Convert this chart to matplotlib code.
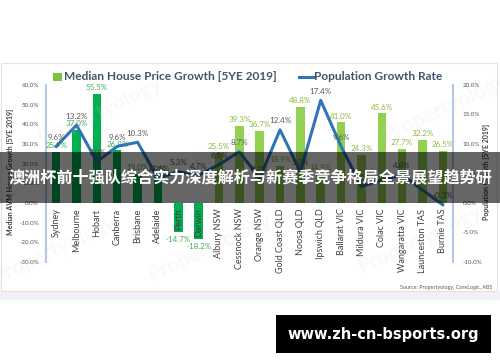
import matplotlib
matplotlib.use("Agg")
import matplotlib.pyplot as plt
from matplotlib.patches import Rectangle

# donnees
regions = ["Sydney", "Melbourne", "Hobart", "Canberra", "Brisbane", "Adelaide",
           "Perth", "Darwin", "Albury NSW", "Cessnock NSW", "Orange NSW",
           "Gold Coast QLD", "Noosa QLD", "Ipswich QLD", "Ballarat VIC",
           "Mildura VIC", "Colac VIC", "Wangaratta VIC", "Launceston TAS",
           "Burnie TAS"]
house_growth = [25.9, 37.0, 55.5, 26.8, 15.0, 14.6, -14.7, -18.2, 25.5, 39.3,
                36.7, 18.9, 48.8, 14.9, 41.0, 24.3, 45.6, 27.7, 32.2, 26.5]
pop_growth = [9.6, 13.2, 7.0, 9.6, 10.3, 4.2, 5.3, 4.7, 6.5, 8.7,
              4.2, 12.4, 5.3, 17.4, 9.6, 2.8, 3.9, 4.8, 2.2, -0.3]
# les 8 premieres sont des capitales
n_capitals = 8
left_ticks = [-30, -20, -10, 0, 10, 20, 30, 40, 50, 60]
right_ticks = [-10, -5, 0, 5, 10, 15, 20]
hidden_pop_labels = [16, 18]  # sous le bandeau, pas lisibles

W, H = 500, 362
fam = ["Lato", "DejaVu Sans"]
cjk = ["Noto Sans CJK SC", "DejaVu Sans"]


def fx(x):
    return x / W


def fy(y):
    return 1 - y / H


fig = plt.figure(figsize=(W / 100, H / 100), dpi=100)
fig.patch.set_facecolor("white")

# cadre du graphique
fig.add_artist(Rectangle((fx(1), fy(291)), fx(497) - fx(1), fy(63) - fy(291),
                         transform=fig.transFigure, facecolor="white",
                         edgecolor="#e3e3e3", lw=0.8, zorder=-5))
fig.add_artist(Rectangle((0, fy(300)), 1, fy(292) - fy(300),
                         transform=fig.transFigure, facecolor="#eef1f6",
                         edgecolor="none", zorder=-5))
fig.add_artist(plt.Line2D([fx(1), fx(497)], [fy(291), fy(291)],
                          transform=fig.transFigure, color="#f8dccb", lw=0.8))

ax = fig.add_axes([fx(46), fy(262), fx(453) - fx(46), fy(85) - fy(262)])
ax2 = ax.twinx()
ax.set_zorder(1)
ax2.set_zorder(2)
ax.patch.set_visible(False)
ax2.patch.set_visible(False)

xs = list(range(len(regions)))
colors = ["#00B050" if i < n_capitals else "#92D050" for i in xs]
lab_colors = ["#3FAE5A" if i < n_capitals else "#8DB83E" for i in xs]

ax.bar(xs, house_growth, width=0.42, color=colors, zorder=2)
ax.set_xlim(-0.5, len(regions) - 0.5)
ax.set_ylim(-30, 60)
ax.set_yticks(left_ticks)
ax.set_yticklabels(["%.1f%%" % v for v in left_ticks])
ax.set_xticks([])

ax2.plot(xs, pop_growth, color="#2F75B5", lw=2.2, zorder=3)
ax2.set_ylim(-10, 20)
ax2.set_yticks(right_ticks)
ax2.set_yticklabels(["%.1f%%" % v for v in right_ticks])

for a in (ax, ax2):
    for s in ("top", "bottom", "left", "right"):
        a.spines[s].set_visible(False)
    a.tick_params(length=0, labelsize=4.5, labelcolor="#595959")
    for t in a.get_yticklabels():
        t.set_family(fam)
ax.tick_params(axis="y", pad=5)
ax2.tick_params(axis="y", pad=7)
ax.spines["left"].set_visible(True)
ax.spines["left"].set_color("#B4C7E7")
ax.spines["left"].set_linewidth(1.5)
ax2.spines["right"].set_visible(True)
ax2.spines["right"].set_color("#B4C7E7")
ax2.spines["right"].set_linewidth(1.5)

# noms des regions, colles a l'axe zero
for i, name in enumerate(regions):
    ax.annotate(name, (i, 0), xytext=(0, -4), textcoords="offset points",
                rotation=90, ha="center", va="top", fontsize=6.5,
                color="#404040", family=fam, zorder=5)

# etiquettes des barres
for i, v in enumerate(house_growth):
    off = 2 if v >= 0 else -3
    ax.annotate("%.1f%%" % v, (i, v), xytext=(0, off), textcoords="offset points",
                ha="center", va="bottom" if v >= 0 else "top", fontsize=5.8,
                color=lab_colors[i], family=fam, zorder=5)

# etiquettes de la courbe
for i, v in enumerate(pop_growth):
    if i in hidden_pop_labels:
        continue
    ax2.annotate("%.1f%%" % v, (i, v), xytext=(0, 4), textcoords="offset points",
                 ha="center", va="bottom", fontsize=5.8, color="#595959",
                 family=fam, zorder=5)

# titres des axes
fig.text(fx(11), fy(172), "Median AVM House Growth [5YE 2019]", rotation=90,
         ha="center", va="center", fontsize=5, color="#404040",
         family=fam, weight="bold")
fig.text(fx(487), fy(172), "Population Growth [5YE 2019]", rotation=90,
         ha="center", va="center", fontsize=5, color="#404040",
         family=fam, weight="bold")

# legende en haut
fig.add_artist(Rectangle((fx(53), fy(81)), fx(9), 8 / H,
                         transform=fig.transFigure, facecolor="#7DC242",
                         edgecolor="none"))
fig.text(fx(64), fy(77), "Median House Price Growth [5YE 2019]", ha="left",
         va="center", fontsize=8.6, color="#44546A", family=fam, weight="bold")
fig.add_artist(plt.Line2D([fx(299), fx(313)], [fy(77), fy(77)],
                          transform=fig.transFigure, color="#2F75B5", lw=2.2))
fig.text(fx(314), fy(77), "Population Growth Rate", ha="left", va="center",
         fontsize=8.6, color="#44546A", family=fam, weight="bold")

fig.text(fx(492), fy(287), "Source: Propertyology, CoreLogic, ABS", ha="right",
         va="center", fontsize=3.9, color="#595959", family=fam)

# filigrane
for (x, y) in [(55, 250), (100, 112), (210, 248), (255, 135), (420, 240), (445, 108)]:
    fig.text(fx(x), fy(y), "Propertyology", rotation=25, ha="center",
             va="center", fontsize=15, color="#d0d0d0", alpha=0.12,
             family=fam, weight="bold", zorder=6)

# bandeau sombre avec le titre
fig.add_artist(Rectangle((0, fy(203)), 1, fy(152) - fy(203),
                         transform=fig.transFigure, facecolor="black",
                         alpha=0.6, edgecolor="none", zorder=10))
fig.text(0.5, fy(177), "澳洲杯前十强队综合实力深度解析与新赛季竞争格局全景展望趋势研",
         ha="center", va="center", fontsize=11.6, color="white", family=cjk,
         weight="bold", zorder=11)

# adresse du site
fig.add_artist(Rectangle((fx(276), fy(353)), fx(215), 38 / H,
                         transform=fig.transFigure, facecolor="black",
                         edgecolor="none", zorder=10))
fig.text(fx(383.5), fy(334), "www.zh-cn-bsports.org", ha="center", va="center",
         fontsize=10.5, color="white", family=["DejaVu Sans"], weight="bold",
         zorder=11)

fig.savefig("out.png", dpi=100)
